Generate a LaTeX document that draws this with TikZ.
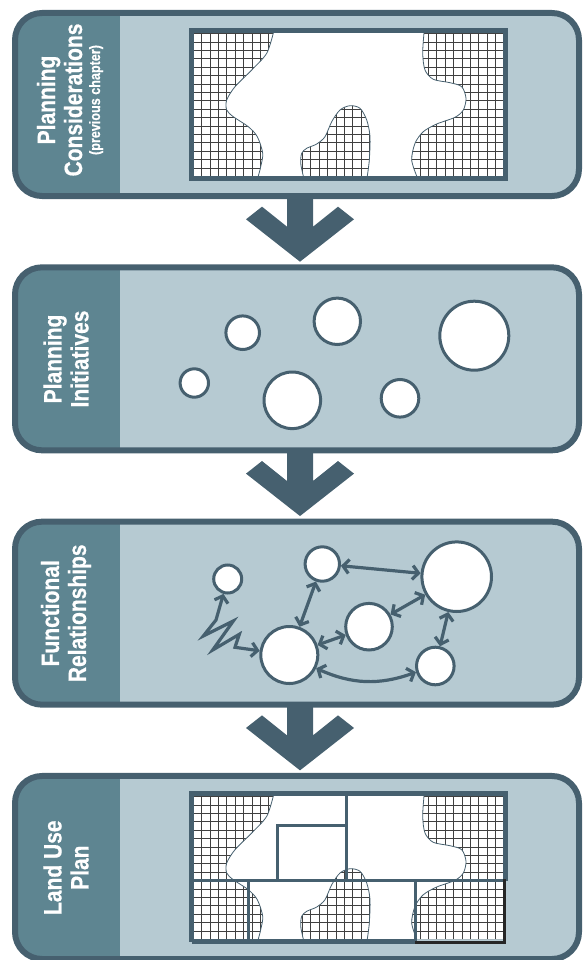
\documentclass[tikz,border=0pt]{standalone}
\usepackage{fontspec}
\usepackage{tikz}
\usetikzlibrary{arrows.meta}

\newfontfamily\panelfont[FakeStretch=0.84,FakeBold=0.6]{Liberation Sans Bold}

\definecolor{slate}{HTML}{46606F}
\definecolor{paneltint}{HTML}{5E8591}
\definecolor{mist}{HTML}{B6CAD2}

\tikzset{
  frame/.style={draw=slate,line width=6pt,rounded corners=27pt},
  sidetext/.style={rotate=90,text=white,align=center,
    font=\panelfont\fontsize{25}{27}\selectfont},
  spot/.style={circle,draw=slate,fill=white,line width=3pt,inner sep=0pt},
  link/.style={draw=slate,line width=3.2pt,
    {Straight Barb[length=6pt,width=14pt]}-{Straight Barb[length=6pt,width=14pt]}},
  mesh/.style={draw=black!75,line width=0.8pt},
  coast/.style={draw=slate,line width=0.8pt},
  plot/.style={draw=slate,line width=3pt},
}

% hatched base map, drawn in the coordinates of the top panel
\newcommand\landmap{%
  \fill[white] (194,33) rectangle (503,176);
  \begin{scope}
    \clip (194,33) -- plot[smooth] coordinates {(273.3,33) (266.7,53.3) (251.7,70) (235,86.7) (226.7,100) (226.7,110) (233.3,116.7) (248.3,126.7) (257.3,136.7) (262.7,153.3) (260.7,166.7) (258.3,176)} -- (194,176) -- cycle;
    \draw[mesh,step=8.4pt] (190,30) grid (506,180);
  \end{scope}
  \begin{scope}
    \clip plot[smooth] coordinates {(303.3,176) (300.7,163.3) (301.7,153.3) (306.7,148.3) (316.7,144) (325,136.7) (331.7,121.7) (340,110) (350,105.7) (360,108.3) (366.7,120) (370,136.7) (369.3,160) (367.3,176)} -- cycle;
    \draw[mesh,step=8.4pt] (190,30) grid (506,180);
  \end{scope}
  \begin{scope}
    \clip (503,33) -- plot[smooth] coordinates {(424,33) (422.7,53.3) (425,70) (433.3,79.3) (450,82.7) (461.7,86.7) (466,98.3) (463.3,110) (455,117.3) (436.7,124) (423.3,131.7) (415,143.3) (411.7,160) (416.7,176)} -- (503,176) -- cycle;
    \draw[mesh,step=8.4pt] (190,30) grid (506,180);
  \end{scope}
  \draw[coast] plot[smooth] coordinates {(273.3,33) (266.7,53.3) (251.7,70) (235,86.7) (226.7,100) (226.7,110) (233.3,116.7) (248.3,126.7) (257.3,136.7) (262.7,153.3) (260.7,166.7) (258.3,176)};
  \draw[coast] plot[smooth] coordinates {(303.3,176) (300.7,163.3) (301.7,153.3) (306.7,148.3) (316.7,144) (325,136.7) (331.7,121.7) (340,110) (350,105.7) (360,108.3) (366.7,120) (370,136.7) (369.3,160) (367.3,176)};
  \draw[coast] plot[smooth] coordinates {(424,33) (422.7,53.3) (425,70) (433.3,79.3) (450,82.7) (461.7,86.7) (466,98.3) (463.3,110) (455,117.3) (436.7,124) (423.3,131.7) (415,143.3) (411.7,160) (416.7,176)};
}

\begin{document}
\begin{tikzpicture}[x=1pt,y=-1pt]
\useasboundingbox (0,0) rectangle (582,960);

% the four panels
\foreach \k in {0,1,2,3} {
  \begin{scope}[shift={(0,254.33*\k)}]
    \fill[mist,rounded corners=27pt] (15,13) rectangle (579,196);
    \begin{scope}
      \clip[rounded corners=27pt] (15,13) rectangle (579,196);
      \fill[paneltint] (0,0) rectangle (120,210);
    \end{scope}
    \draw[frame] (15,13) rectangle (579,196);
  \end{scope}
}

% arrows between panels
\foreach \k in {0,1,2}
  \fill[slate,shift={(0,254.33*\k)}] (287,196) -- (287,226.7) -- (262,206.7)
    -- (246,219.3) -- (300,261.7) -- (354,219.3) -- (338,206.7)
    -- (313,226.7) -- (313,196) -- cycle;

% panel titles
\node[sidetext] (consider) at (70,100) {Planning\\Considerations\\[-9pt]
  {\fontsize{15}{16}\selectfont (previous chapter)}};
\node[sidetext] (initiate) at (66,359) {Planning\\Initiatives};
\node[sidetext] (relate) at (66,613.3) {Functional\\Relationships};
\node[sidetext] (landuse) at (66,867.7) {Land Use\\Plan};

% planning considerations
\landmap
\draw[slate,line width=5pt] (191.5,30.5) rectangle (505.5,178.5);

% planning initiatives
\node[spot,minimum size=33.6pt] (ia) at (242.7,332.7) {};
\node[spot,minimum size=46.4pt] (ib) at (337.3,321.3) {};
\node[spot,minimum size=69pt] (ic) at (474.3,335.7) {};
\node[spot,minimum size=28.4pt] (id) at (194.3,383) {};
\node[spot,minimum size=56.6pt] (ie) at (292.3,400.3) {};
\node[spot,minimum size=37.6pt] (if) at (400,398.3) {};

% functional relationships
\node[spot,minimum size=28pt] (fa) at (227.7,579) {};
\node[spot,minimum size=34.4pt] (fb) at (322.3,564) {};
\node[spot,minimum size=69.6pt] (fc) at (456.7,576.7) {};
\node[spot,minimum size=46.6pt] (fd) at (369,626.7) {};
\node[spot,minimum size=57pt] (fe) at (289.3,655) {};
\node[spot,minimum size=37.6pt] (ff) at (435.3,666) {};
\draw[link] (fb) -- (fc);
\draw[link] (fb) -- (fe);
\draw[link] (fc) -- (fd);
\draw[link] (fc) -- (ff);
\draw[link] (fd) -- (fe);
\draw[link] (fe) to[bend right=22] (ff);
\draw[link] (fa) -- (216,620) -- (203.3,636) -- (233.3,621) -- (212.7,650)
  -- (239.3,634.3) -- (235,647.3) -- (fe);

% land use plan
\begin{scope}[shift={(0,763)}]
  \landmap
  \draw[plot] (346.7,30.5) -- (346.7,117.7);
  \draw[plot] (277.7,117.7) rectangle (346.7,62.7);
  \draw[plot] (191.5,117.7) -- (505.5,117.7);
  \draw[plot] (248.3,117.7) rectangle (415,178.7);
  \draw[slate,line width=5pt] (191.5,178.5) -- (191.5,30.5) -- (505.5,30.5) -- (505.5,117.7);
  \draw[slate,line width=5pt] (191.5,178.5) -- (415,178.5);
  \draw[black!85,line width=3pt] (415,179) -- (504.5,179) -- (504.5,116.2);
\end{scope}
\end{tikzpicture}
\end{document}
